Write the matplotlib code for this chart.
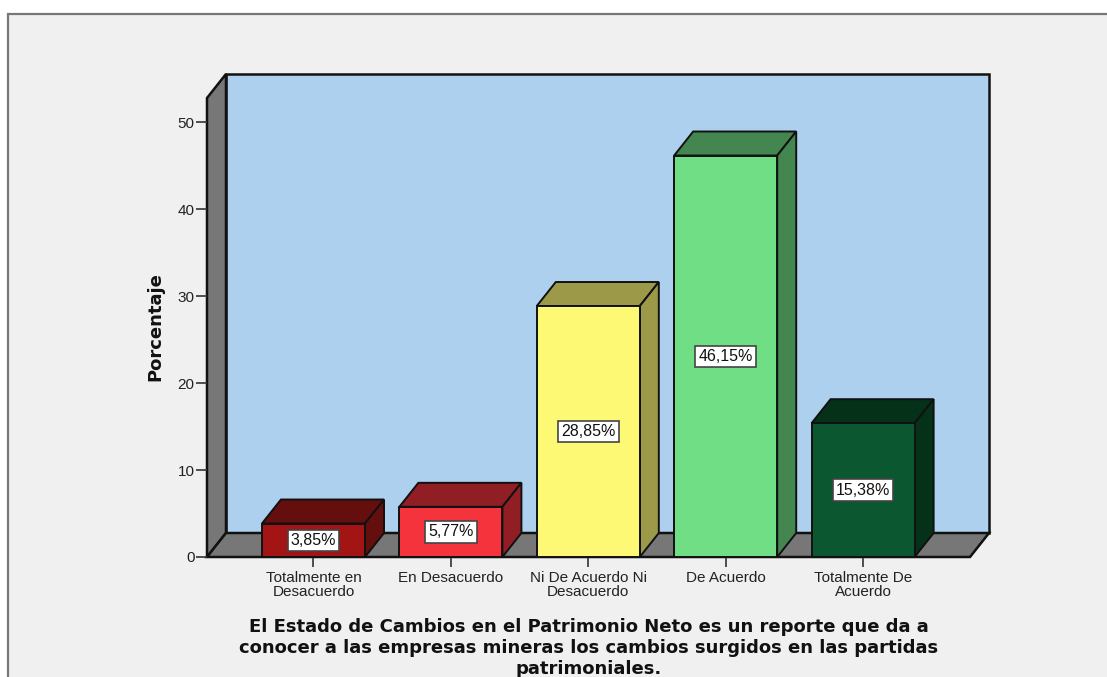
#!/usr/bin/env python3
# Pseudo-3D bar chart, SPSS look: front plane is the axes, depth is a fixed shift in data units
import matplotlib; matplotlib.use("Agg")
import matplotlib.pyplot as plt
from matplotlib.patches import Polygon, Rectangle

CATEGORIES = ["Totalmente en\nDesacuerdo", "En Desacuerdo", "Ni De Acuerdo Ni\nDesacuerdo", "De Acuerdo", "Totalmente De\nAcuerdo"]
VALUES = [3.85, 5.77, 28.85, 46.15, 15.38]
LABELS = ["3,85%", "5,77%", "28,85%", "46,15%", "15,38%"]
YTICKS = [0, 10, 20, 30, 40, 50]
FRONT = ["#a31515", "#f5333c", "#fef975", "#70de85", "#0a5730"]
SHADE = ["#640e0e", "#911e24", "#9c9948", "#438650", "#063119"]
TITLE = "El Estado de Cambios en el Patrimonio Neto es un reporte que da a\nconocer a las empresas mineras los cambios surgidos en las partidas\npatrimoniales."

W, H = 1107, 677
PANEL = "#f0f0f0"; WALL = "#aed0ef"; SIDE = "#777777"; EDGE = "#111111"
plt.rcParams["font.family"] = ["Liberation Sans", "DejaVu Sans"]

fig = plt.figure(figsize=(W / 100, H / 100), dpi=100, facecolor="white")
fig.add_artist(Rectangle((8 / W, -0.1), 1.1, 1.1 - 14 / H, transform=fig.transFigure, fc=PANEL, ec="#777777", lw=1.6, zorder=-1))
ax = fig.add_axes([207 / W, 1 - 557 / H, (970 - 207) / W, (557 - 98) / H])
ax.patch.set_visible(False)
ax.set_xlim(-0.775, 4.778); ax.set_ylim(0, 52.76)
DX = 19 / 137.4; DY = 24 / 8.7; BW = 0.75
x0, x1 = ax.get_xlim(); y1 = ax.get_ylim()[1]

def poly(pts, fc, z=2, lw=1.4):
    ax.add_patch(Polygon(pts, closed=True, fc=fc, ec=EDGE, lw=lw, joinstyle="miter", clip_on=False, zorder=z))

# walls and floor
poly([(x0 + DX, DY), (x1 + DX, DY), (x1 + DX, y1 + DY), (x0 + DX, y1 + DY)], WALL, 1, 1.8)
poly([(x0, 0), (x0 + DX, DY), (x0 + DX, y1 + DY), (x0, y1)], SIDE, 1, 1.8)
poly([(x0, 0), (x1, 0), (x1 + DX, DY), (x0 + DX, DY)], SIDE, 1, 1.8)

# bars
for i, (v, lab) in enumerate(zip(VALUES, LABELS)):
    l, r = i - BW / 2, i + BW / 2
    poly([(l, v), (r, v), (r + DX, v + DY), (l + DX, v + DY)], SHADE[i], 3)
    poly([(r, 0), (r + DX, DY), (r + DX, v + DY), (r, v)], SHADE[i], 3)
    poly([(l, 0), (r, 0), (r, v), (l, v)], FRONT[i], 4)
    ax.text(i, v / 2, lab, ha="center", va="center", fontsize=11.5, color="#111111", zorder=5,
            bbox=dict(boxstyle="square,pad=0.2", fc="white", ec="#444444", lw=1.2))

for s in ax.spines.values(): s.set_visible(False)
ax.set_xticks(range(len(CATEGORIES))); ax.set_xticklabels(CATEGORIES, fontsize=11, color="#222222", linespacing=1.05)
ax.set_yticks(YTICKS); ax.set_yticklabels([str(t) for t in YTICKS], fontsize=11, color="#222222")
ax.tick_params(axis="x", length=7, width=1.2, color="#333333", pad=3)
ax.tick_params(axis="y", length=8, width=1.2, color="#333333", pad=1)
fig.text(155 / W, 1 - 327 / H, "Porcentaje", rotation=90, ha="center", va="center", family="DejaVu Sans", fontsize=13, fontweight="bold", color="#111111")
fig.text(589 / W, 1 - 648 / H, TITLE, ha="center", va="center", family="DejaVu Sans", fontsize=13, fontweight="bold", color="#111111", linespacing=1.21)
fig.savefig("out.png", dpi=100, facecolor="white")
